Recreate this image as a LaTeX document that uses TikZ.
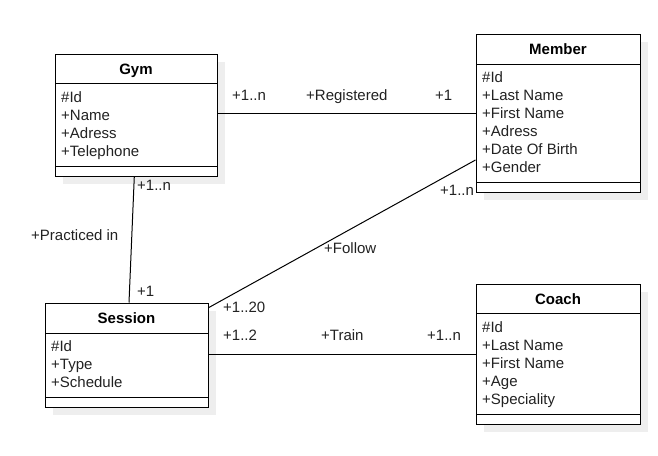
\documentclass[tikz,border=0pt]{standalone}
\usepackage{fontspec}
\setmainfont{Liberation Sans}
\definecolor{txtgray}{HTML}{222222}
\definecolor{shadowgray}{HTML}{EEEEEE}
\tikzset{
  classbox/.style={draw=black, line width=1pt, fill=white, inner sep=0pt},
  sepline/.style={draw=black, line width=1pt},
  titletext/.style={font=\fontsize{15}{18}\selectfont\bfseries, text=black, inner sep=0pt, anchor=base},
  attrtext/.style={font=\fontsize{15}{18}\selectfont, text=txtgray, inner sep=0pt, anchor=base west},
  lbl/.style={font=\fontsize{15}{18}\selectfont, text=txtgray, inner sep=0pt, anchor=base west},
  assoc/.style={draw=black, line width=1pt}
}
% name, left, top, right, bottom, titlesep, methsep, title, attrs
\newcommand{\umlclass}[9]{%
  \fill[shadowgray] (#2+8,#3+8) rectangle (#4+8,#5+8);
  \node[classbox, minimum width={(#4-#2)*1pt}, minimum height={(#5-#3)*1pt}] (#1) at ({(#2+#4)/2},{(#3+#5)/2}) {};
  \draw[sepline] (#2,#6) -- (#4,#6);
  \draw[sepline] (#2,#7) -- (#4,#7);
  \node[titletext] (#1-title) at ({(#2+#4)/2},{(#3+#6)/2+5.4}) {#8};
  \foreach \a [count=\i] in {#9} {
    \node[attrtext] (#1-a\i) at (#2+6,{#6+18.5+(\i-1)*18}) {\a};
  }
}
\begin{document}
\begin{tikzpicture}[x=1pt,y=-1pt]
\useasboundingbox (0,0) rectangle (658,455);
\fill[white] (0,0) rectangle (658,455);

\umlclass{gym}{55}{54}{217}{176}{83.5}{166}{Gym}{\#Id,+Name,+Adress,+Telephone}
\umlclass{member}{476}{34}{640}{192}{64}{182}{Member}{\#Id,+Last Name,+First Name,+Adress,+Date Of Birth,+Gender}
\umlclass{session}{45}{303}{208}{407}{333}{397}{Session}{\#Id,+Type,+Schedule}
\umlclass{coach}{476}{284}{640}{424}{313.5}{414}{Coach}{\#Id,+Last Name,+First Name,+Age,+Speciality}

% Registered
\draw[assoc] (gym.east |- 0,113.5) -- (member.west |- 0,113.5);
\node[lbl] (reg-a) at (232,100.5) {+1..n};
\node[lbl] (reg-n) at (306,100.5) {+Registered};
\node[lbl] (reg-b) at (435,100.5) {+1};

% Practiced in
\draw[assoc] (gym.south -| 134.3,0) -- (session.north -| 129,0);
\node[lbl] (pr-a) at (137,190.5) {+1..n};
\node[lbl] (pr-n) at (31,240.5) {+Practiced in};
\node[lbl] (pr-b) at (137,296) {+1};

% Follow
\draw[assoc] (session.east |- 0,307.7) -- (member.west |- 0,160);
\node[lbl] (fo-a) at (223,312) {+1..20};
\node[lbl] (fo-n) at (324,253.5) {+Follow};
\node[lbl] (fo-b) at (440,195.5) {+1..n};

% Train
\draw[assoc] (session.east |- 0,354) -- (coach.west |- 0,354);
\node[lbl] (tr-a) at (223,340.5) {+1..2};
\node[lbl] (tr-n) at (321,340.5) {+Train};
\node[lbl] (tr-b) at (427,340.5) {+1..n};
\end{tikzpicture}
\end{document}
